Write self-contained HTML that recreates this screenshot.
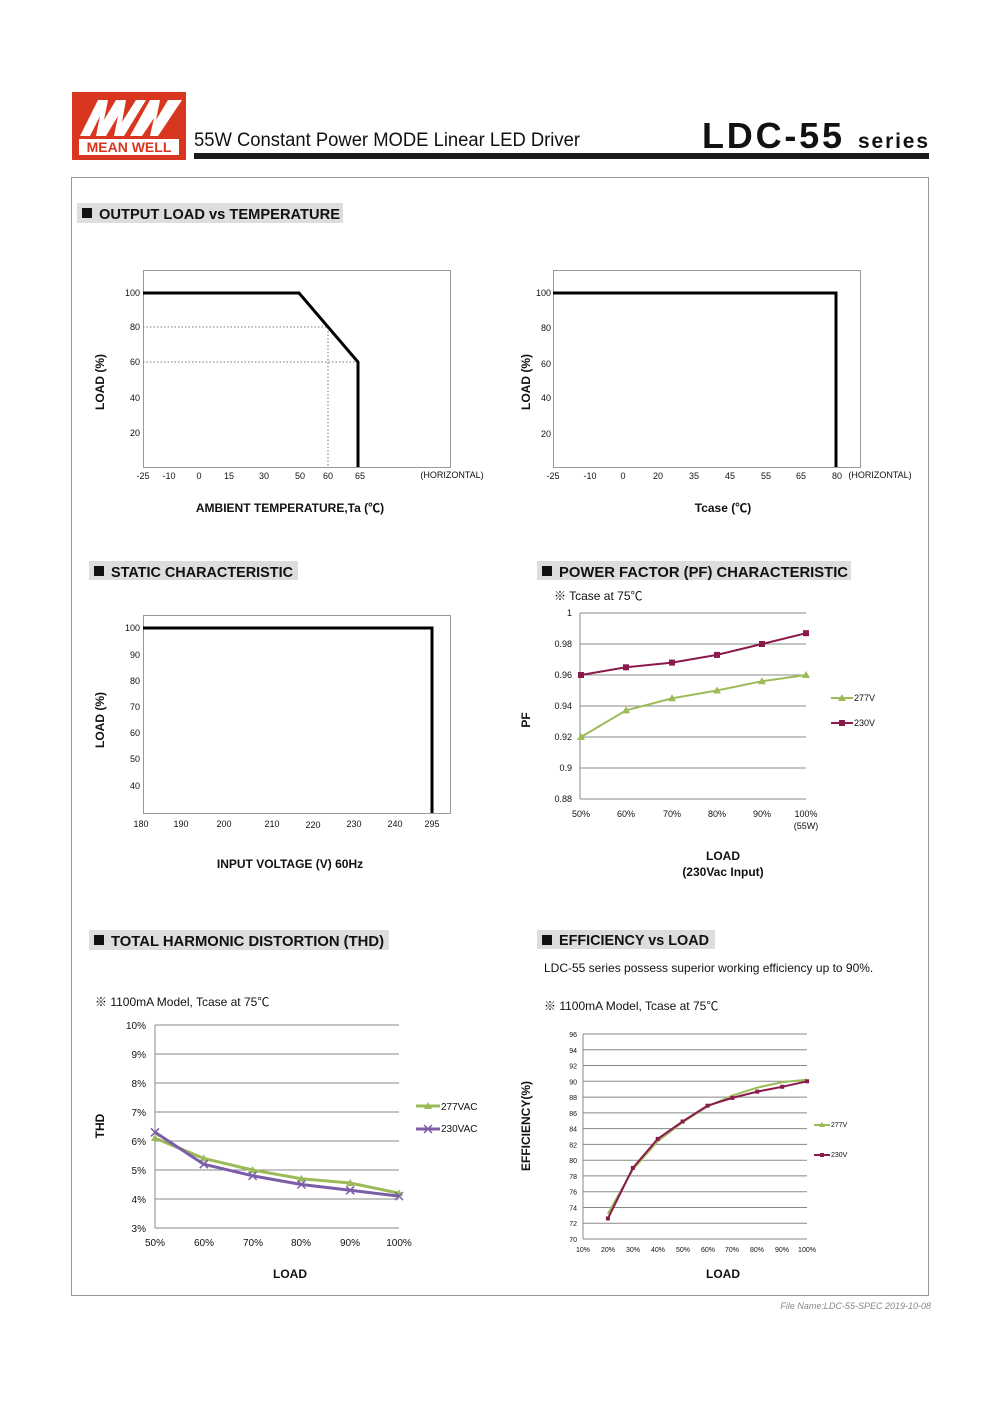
<!DOCTYPE html>
<html><head><meta charset="utf-8"><style>
body{margin:0;background:#fff}
svg{display:block}
text{font-family:"Liberation Sans","Noto Sans CJK SC",sans-serif;fill:#111}
.t{font-size:9px}
.h{font-size:15px;font-weight:bold}
.ax{font-size:12px;font-weight:bold}
.g{stroke:#888;stroke-width:1}
</style></head><body>
<svg width="1000" height="1415" viewBox="0 0 1000 1415" xmlns="http://www.w3.org/2000/svg">
<!-- header -->
<rect x="72" y="92" width="114" height="68" fill="#d9361f"/>
<path d="M80 136 L98 100 L108 100 L104 120 L116 100 L126 100 L122 122 L136 100 L146 100 L124 136 L114 136 L118 116 L106 136 L96 136 L100 116 L90 136Z" fill="#fff"/>
<path d="M130 136 L150 100 L160 100 L156 120 L168 100 L182 100 L158 136 L150 136 L154 118 L142 136Z" fill="#fff"/>
<rect x="79" y="139" width="100" height="16" fill="#fff"/>
<text x="129" y="152" text-anchor="middle" style="font-size:14px;font-weight:bold;fill:#d9361f">MEAN WELL</text>
<text x="194" y="146" style="font-size:19px" textLength="386" lengthAdjust="spacingAndGlyphs">55W Constant Power MODE Linear LED Driver</text>
<rect x="194" y="153" width="735" height="6" fill="#1a1a1a"/>
<text x="702" y="148" style="font-size:36px;font-weight:bold" textLength="140" lengthAdjust="spacing">LDC-55</text>
<text x="858" y="148" style="font-size:21px;font-weight:bold" textLength="70" lengthAdjust="spacing">series</text>
<text x="931" y="1309" text-anchor="end" style="font-size:9px;font-style:italic;fill:#888">File Name:LDC-55-SPEC   2019-10-08</text>
<rect x="71.5" y="177.5" width="857" height="1118" fill="none" stroke="#999"/>

<!-- section headers -->
<g>
<rect x="77" y="203" width="266" height="20" fill="#ddd"/><rect x="82" y="208" width="10" height="10" fill="#111"/><text x="99" y="219" class="h" textLength="241" lengthAdjust="spacingAndGlyphs">OUTPUT LOAD vs TEMPERATURE</text>
<rect x="89" y="561" width="209" height="19" fill="#ddd"/><rect x="94" y="566" width="10" height="10" fill="#111"/><text x="111" y="577" class="h" textLength="182" lengthAdjust="spacingAndGlyphs">STATIC CHARACTERISTIC</text>
<rect x="537" y="561" width="314" height="19" fill="#ddd"/><rect x="542" y="566" width="10" height="10" fill="#111"/><text x="559" y="577" class="h" textLength="289" lengthAdjust="spacingAndGlyphs">POWER FACTOR (PF) CHARACTERISTIC</text>
<rect x="89" y="930" width="300" height="20" fill="#ddd"/><rect x="94" y="935" width="10" height="10" fill="#111"/><text x="111" y="946" class="h" textLength="273" lengthAdjust="spacingAndGlyphs">TOTAL HARMONIC DISTORTION (THD)</text>
<rect x="537" y="930" width="178" height="19" fill="#ddd"/><rect x="542" y="935" width="10" height="10" fill="#111"/><text x="559" y="945" class="h" textLength="150" lengthAdjust="spacingAndGlyphs">EFFICIENCY vs LOAD</text>
</g>

<!-- chart 1 -->
<rect x="143.5" y="270.5" width="307" height="197" fill="none" stroke="#999"/>
<g class="t" text-anchor="end">
<text x="140" y="296">100</text><text x="140" y="330">80</text><text x="140" y="365">60</text><text x="140" y="401">40</text><text x="140" y="436">20</text></g>
<g class="t" text-anchor="middle">
<text x="143" y="479">-25</text><text x="169" y="479">-10</text><text x="199" y="479">0</text><text x="229" y="479">15</text><text x="264" y="479">30</text><text x="300" y="479">50</text><text x="328" y="479">60</text><text x="360" y="479">65</text><text x="452" y="478">(HORIZONTAL)</text></g>
<path d="M143 327H328V467M143 362H358" fill="none" stroke="#777" stroke-dasharray="1.5,2"/>
<path d="M143 293H299L358 362V467" fill="none" stroke="#000" stroke-width="3"/>
<text x="104" y="382" class="ax" transform="rotate(-90 104 382)" text-anchor="middle">LOAD (%)</text>
<text x="290" y="512" class="ax" text-anchor="middle">AMBIENT TEMPERATURE,Ta (℃)</text>

<!-- chart 2 -->
<rect x="553.5" y="270.5" width="307" height="197" fill="none" stroke="#999"/>
<g class="t" text-anchor="end">
<text x="551" y="296">100</text><text x="551" y="331">80</text><text x="551" y="367">60</text><text x="551" y="401">40</text><text x="551" y="437">20</text></g>
<g class="t" text-anchor="middle">
<text x="553" y="479">-25</text><text x="590" y="479">-10</text><text x="623" y="479">0</text><text x="658" y="479">20</text><text x="694" y="479">35</text><text x="730" y="479">45</text><text x="766" y="479">55</text><text x="801" y="479">65</text><text x="837" y="479">80</text><text x="880" y="478">(HORIZONTAL)</text></g>
<path d="M553 293H836V467" fill="none" stroke="#000" stroke-width="3"/>
<text x="530" y="382" class="ax" transform="rotate(-90 530 382)" text-anchor="middle">LOAD (%)</text>
<text x="723" y="512" class="ax" text-anchor="middle">Tcase (℃)</text>

<!-- chart 3 -->
<rect x="143.5" y="615.5" width="307" height="198" fill="none" stroke="#999"/>
<g class="t" text-anchor="end">
<text x="140" y="631">100</text><text x="140" y="658">90</text><text x="140" y="684">80</text><text x="140" y="710">70</text><text x="140" y="736">60</text><text x="140" y="762">50</text><text x="140" y="789">40</text></g>
<g class="t" text-anchor="middle">
<text x="141" y="827">180</text><text x="181" y="827">190</text><text x="224" y="827">200</text><text x="272" y="827">210</text><text x="313" y="828">220</text><text x="354" y="827">230</text><text x="395" y="827">240</text><text x="432" y="827">295</text></g>
<path d="M143 628H432V813" fill="none" stroke="#000" stroke-width="3"/>
<text x="104" y="720" class="ax" transform="rotate(-90 104 720)" text-anchor="middle">LOAD (%)</text>
<text x="290" y="868" class="ax" text-anchor="middle">INPUT VOLTAGE (V) 60Hz</text>

<!-- PF chart -->
<text x="554" y="600" style="font-size:12px">※ Tcase at 75℃</text>
<g class="g"><path d="M580 613H806M580 644H806M580 675H806M580 706H806M580 737H806M580 768H806M580 799H806M580 613V799"/></g>
<g class="t" text-anchor="end">
<text x="572" y="616">1</text><text x="572" y="647">0.98</text><text x="572" y="678">0.96</text><text x="572" y="709">0.94</text><text x="572" y="740">0.92</text><text x="572" y="771">0.9</text><text x="572" y="802">0.88</text></g>
<g class="t" text-anchor="middle">
<text x="581" y="817">50%</text><text x="626" y="817">60%</text><text x="672" y="817">70%</text><text x="717" y="817">80%</text><text x="762" y="817">90%</text><text x="806" y="817">100%</text><text x="806" y="829">(55W)</text></g>
<polyline points="581,675 626,667.3 672,662.6 717,654.9 762,644 806,633.2" fill="none" stroke="#8b1a4c" stroke-width="2"/>
<g fill="#8b1a4c"><rect x="578" y="672" width="6" height="6"/><rect x="623" y="664.3" width="6" height="6"/><rect x="669" y="659.6" width="6" height="6"/><rect x="714" y="651.9" width="6" height="6"/><rect x="759" y="641" width="6" height="6"/><rect x="803" y="630.2" width="6" height="6"/></g>
<polyline points="581,737 626,710.4 672,698.3 717,690.5 762,681.2 806,675" fill="none" stroke="#9bbb59" stroke-width="2"/>
<g fill="#9bbb59"><path d="M581 733l4 7h-8z"/><path d="M626 706.4l4 7h-8z"/><path d="M672 694.3l4 7h-8z"/><path d="M717 686.5l4 7h-8z"/><path d="M762 677.2l4 7h-8z"/><path d="M806 671l4 7h-8z"/></g>
<path d="M831 698H853" stroke="#9bbb59" stroke-width="2"/><path d="M842 694l4 7h-8z" fill="#9bbb59"/><text x="854" y="701" class="t">277V</text>
<path d="M831 723H853" stroke="#8b1a4c" stroke-width="2"/><rect x="839" y="720" width="6" height="6" fill="#8b1a4c"/><text x="854" y="726" class="t">230V</text>
<text x="530" y="720" class="ax" transform="rotate(-90 530 720)" text-anchor="middle">PF</text>
<text x="723" y="860" class="ax" text-anchor="middle">LOAD</text>
<text x="723" y="876" class="ax" text-anchor="middle">(230Vac Input)</text>

<!-- THD -->
<text x="95" y="1006" style="font-size:12px">※ 1100mA Model, Tcase at 75℃</text>
<g class="g"><path d="M155 1025H399M155 1054H399M155 1083H399M155 1112H399M155 1141H399M155 1170H399M155 1199H399M155 1228H399M155 1025V1228"/></g>
<g style="font-size:10px" text-anchor="end">
<text x="146" y="1029">10%</text><text x="146" y="1058">9%</text><text x="146" y="1087">8%</text><text x="146" y="1116">7%</text><text x="146" y="1145">6%</text><text x="146" y="1174">5%</text><text x="146" y="1203">4%</text><text x="146" y="1232">3%</text></g>
<g style="font-size:10px" text-anchor="middle">
<text x="155" y="1246">50%</text><text x="204" y="1246">60%</text><text x="253" y="1246">70%</text><text x="301" y="1246">80%</text><text x="350" y="1246">90%</text><text x="399" y="1246">100%</text></g>
<polyline points="155,1138.1 203.8,1158.4 252.6,1170 301.4,1178.7 350.2,1183 399,1193.2" fill="none" stroke="#9bbb59" stroke-width="3"/>
<g fill="#9bbb59"><path d="M155 1134l4 7h-8z"/><path d="M203.8 1154.4l4 7h-8z"/><path d="M252.6 1166l4 7h-8z"/><path d="M301.4 1174.7l4 7h-8z"/><path d="M350.2 1179l4 7h-8z"/><path d="M399 1189.2l4 7h-8z"/></g>
<polyline points="155,1132.3 203.8,1164.2 252.6,1175.8 301.4,1184.5 350.2,1190.3 399,1196.1" fill="none" stroke="#7b5ea7" stroke-width="3"/>
<g stroke="#7b5ea7" stroke-width="1.5"><path d="M151 1128.3l8 8m0-8l-8 8"/><path d="M199.8 1160.2l8 8m0-8l-8 8"/><path d="M248.6 1171.8l8 8m0-8l-8 8"/><path d="M297.4 1180.5l8 8m0-8l-8 8"/><path d="M346.2 1186.3l8 8m0-8l-8 8"/><path d="M395 1192.1l8 8m0-8l-8 8"/></g>
<path d="M416 1106H440" stroke="#9bbb59" stroke-width="3"/><path d="M428 1102l4 7h-8z" fill="#9bbb59"/><text x="441" y="1110" style="font-size:10px">277VAC</text>
<path d="M416 1129H440" stroke="#7b5ea7" stroke-width="3"/><path d="M424 1125l8 8m0-8l-8 8" stroke="#7b5ea7" stroke-width="1.5"/><text x="441" y="1132" style="font-size:10px">230VAC</text>
<text x="104" y="1126" class="ax" transform="rotate(-90 104 1126)" text-anchor="middle">THD</text>
<text x="290" y="1278" class="ax" text-anchor="middle">LOAD</text>

<!-- Efficiency -->
<text x="544" y="972" style="font-size:12px">LDC-55 series possess superior working efficiency up to 90%.</text>
<text x="544" y="1010" style="font-size:12px">※  1100mA Model, Tcase at 75℃</text>
<g class="g"><path d="M583 1034H807M583 1049.8H807M583 1065.5H807M583 1081.3H807M583 1097.1H807M583 1112.9H807M583 1128.6H807M583 1144.4H807M583 1160.2H807M583 1175.9H807M583 1191.7H807M583 1207.5H807M583 1223.2H807M583 1239H807M583 1034V1239"/></g>
<g style="font-size:7px" text-anchor="end">
<text x="577" y="1037">96</text><text x="577" y="1052.8">94</text><text x="577" y="1068.5">92</text><text x="577" y="1084.3">90</text><text x="577" y="1100.1">88</text><text x="577" y="1115.9">86</text><text x="577" y="1131.6">84</text><text x="577" y="1147.4">82</text><text x="577" y="1163.2">80</text><text x="577" y="1178.9">78</text><text x="577" y="1194.7">76</text><text x="577" y="1210.5">74</text><text x="577" y="1226.2">72</text><text x="577" y="1242">70</text></g>
<g style="font-size:7px" text-anchor="middle">
<text x="583" y="1252">10%</text><text x="608" y="1252">20%</text><text x="633" y="1252">30%</text><text x="658" y="1252">40%</text><text x="683" y="1252">50%</text><text x="708" y="1252">60%</text><text x="732" y="1252">70%</text><text x="757" y="1252">80%</text><text x="782" y="1252">90%</text><text x="807" y="1252">100%</text></g>
<polyline points="607.9,1213.8 632.8,1169.6 657.7,1141.2 682.6,1122.3 707.5,1106.5 732.4,1095.5 757.3,1087.6 782.2,1082.1 807.1,1079.7" fill="none" stroke="#9bbb59" stroke-width="2"/>
<polyline points="607.9,1218.5 632.8,1168 657.7,1138.9 682.6,1121.5 707.5,1105.7 732.4,1097.9 757.3,1091.6 782.2,1086.8 807.1,1081.3" fill="none" stroke="#8b1a4c" stroke-width="2"/>
<g fill="#8b1a4c"><rect x="605.9" y="1216.5" width="4" height="4"/><rect x="630.8" y="1166" width="4" height="4"/><rect x="655.7" y="1136.9" width="4" height="4"/><rect x="680.6" y="1119.5" width="4" height="4"/><rect x="705.5" y="1103.7" width="4" height="4"/><rect x="730.4" y="1095.9" width="4" height="4"/><rect x="755.3" y="1089.6" width="4" height="4"/><rect x="780.2" y="1084.8" width="4" height="4"/><rect x="805.1" y="1079.3" width="4" height="4"/></g>
<path d="M814 1125H830" stroke="#9bbb59" stroke-width="2"/><path d="M822 1122l3 5h-6z" fill="#9bbb59"/><text x="831" y="1127" style="font-size:7px">277V</text>
<path d="M814 1155H830" stroke="#8b1a4c" stroke-width="2"/><rect x="820" y="1153" width="4" height="4" fill="#8b1a4c"/><text x="831" y="1157" style="font-size:7px">230V</text>
<text x="530" y="1126" class="ax" transform="rotate(-90 530 1126)" text-anchor="middle">EFFICIENCY(%)</text>
<text x="723" y="1278" class="ax" text-anchor="middle">LOAD</text>
</svg>
</body></html>
